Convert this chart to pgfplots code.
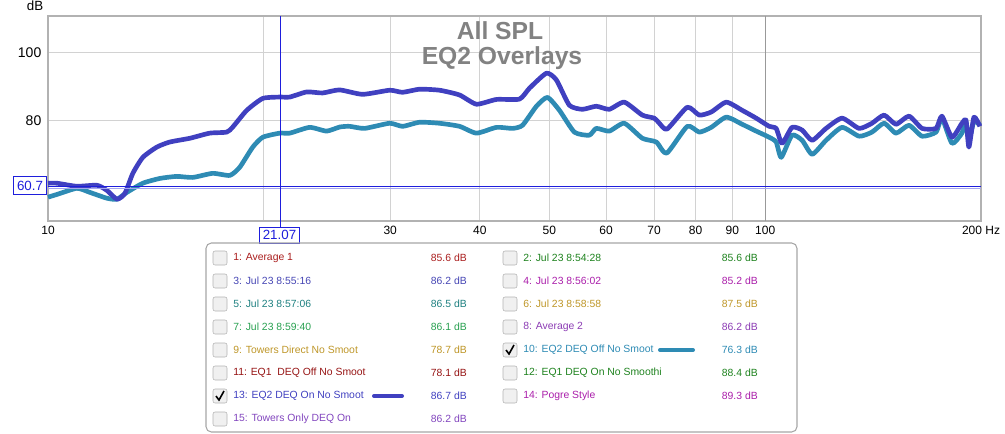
\documentclass[border=0pt]{standalone}
\usepackage{fontspec}
\setmainfont{Liberation Sans}
\usepackage{pgfplots}
\pgfplotsset{compat=1.18}
\definecolor{eqon}{RGB}{64,64,192}
\definecolor{eqoff}{RGB}{46,139,180}
\definecolor{cur}{RGB}{30,30,220}
\definecolor{ttl}{RGB}{130,130,130}
\definecolor{cA}{RGB}{170,30,30}
\definecolor{cB}{RGB}{70,70,180}
\definecolor{cC}{RGB}{30,128,128}
\definecolor{cD}{RGB}{40,160,80}
\definecolor{cE}{RGB}{190,150,40}
\definecolor{cF}{RGB}{150,20,20}
\definecolor{cG}{RGB}{130,70,190}
\definecolor{cH}{RGB}{30,130,30}
\definecolor{cI}{RGB}{170,30,170}
\definecolor{cJ}{RGB}{140,60,180}
\newcommand{\entry}[6]{%
  \draw[gray!60, fill=gray!12, rounded corners=1.5pt] (#1-7,#2-7) rectangle (#1+7,#2+7);
  \node[anchor=west, text=#6, inner sep=0pt] at (#1+13,#2) {#3};
  \node[anchor=east, text=#6, inner sep=0pt] at (#4,#2) {#5};
}
\newcommand{\chk}[2]{\draw[black, line width=1.2pt] (#1-4,#2) -- (#1-1,#2+4) -- (#1+4,#2-5);}
\begin{document}
\begin{tikzpicture}
\useasboundingbox (0,0) rectangle (753.75pt,-324.75pt);
\begin{axis}[
  at={(36pt,-12pt)}, anchor=north west,
  scale only axis, width=699.75pt, height=153.75pt,
  xmode=log, xmin=10, xmax=200, ymin=50.6, ymax=110.8,
  axis line style={draw=gray!60, line width=1pt},
  major tick length=0pt, minor tick length=0pt,
  xtick={10,20,30,40,50,60,70,80,90,200},
  xticklabels={10,,30,40,50,60,70,80,90,200 Hz},
  extra x ticks={100}, extra x tick labels={100},
  extra x tick style={grid style={gray!80, line width=0.75pt}},
  ytick={80,100},
  xmajorgrids, ymajorgrids,
  grid style={gray!35, line width=0.75pt},
  /pgf/number format/assume math mode=true,
  xticklabel style={font=\fontsize{9}{10}\selectfont, text=black},
  yticklabel style={font=\fontsize{10.5}{12}\selectfont, text=black, xshift=-1.5pt},
  log ticks with fixed point,
  clip=false,
]
\addplot[eqoff, line width=3.5pt, smooth, tension=0.35, line join=round] coordinates {
(10,57.6) (10.29,58.4) (10.97,60.2) (11.44,59.0) (12.08,57.3) (12.48,57.0) (12.88,59.0)
(13.56,61.7) (14.32,63.1) (15.12,63.7) (15.92,63.4) (16.97,64.6) (17.93,64.0) (18.51,66.4)
(19.30,72.3) (19.93,75.2) (21.04,76.4) (21.73,76.4) (23.17,78.1) (24.46,77.0) (25.51,78.2)
(26.34,78.4) (27.64,77.8) (29.95,79.3) (31.22,78.4) (32.97,79.6) (35.16,79.3) (37.49,78.4)
(39.58,76.4) (42.21,78.1) (44.43,77.8) (45.88,78.7) (47.98,84.3) (49.71,86.9) (51.66,83.1)
(54.20,76.7) (56.86,75.8) (58.15,77.8) (60.62,77.0) (63.62,79.3) (67.41,74.9) (70.51,73.8)
(72.9,70.5) (77.88,78.4) (80.93,76.7) (84.10,78.1) (88.26,81.1) (92.90,79.0) (97.16,77.0)
(101.3,75.2) (103.6,73.8) (105.3,69.3) (109.0,75.8) (112.6,74.3) (116.3,70.2) (121.6,74.3)
(128.0,78.1) (135.2,75.5) (140.9,76.7) (146.5,79.3) (152.2,76.4) (158.7,78.7) (165.5,75.5)
(173.1,76.7) (176.4,80.8) (182.2,73.4) (188.1,76.4) (190.6,79.6) (192.4,74.3) (195.5,79.9)
(199.3,78.7)
};
\addplot[eqon, line width=3.5pt, smooth, tension=0.35, line join=round] coordinates {
(10,61.7) (10.29,61.7) (10.97,60.8) (11.70,61.1) (12.08,59.6) (12.48,57.0) (12.80,58.7)
(13.13,64.6) (13.56,69.3) (14.18,72.3) (14.79,73.8) (15.77,74.9) (16.81,76.4) (17.75,76.7)
(18.10,78.2) (18.93,83.1) (19.93,86.6) (21.04,87.0) (21.73,87.0) (22.95,88.5) (24.15,88.2)
(25.5,89.1) (27.46,87.8) (29.95,89.0) (31.22,88.4) (32.97,89.3) (35.16,89.0) (37.49,87.6)
(39.58,84.9) (42.21,86.3) (45.44,86.4) (46.92,89.6) (49.55,94.0) (51.16,92.0) (53.33,84.6)
(55.61,83.4) (58.15,84.3) (60.62,83.4) (63.62,85.5) (67.41,81.7) (70.06,80.8) (71.2,79.3)
(73.0,77.6) (77.88,84.0) (80.93,81.7) (84.10,82.6) (88.26,85.5) (92.90,83.1) (97.16,80.8)
(101.3,78.4) (103.6,77.8) (105.6,73.4) (109.0,78.1) (112.6,77.3) (116.3,74.3) (121.6,77.8)
(128.0,80.8) (135.2,77.8) (140.9,79.3) (146.5,81.7) (152.2,79.0) (158.7,81.4) (165.5,77.8)
(173.1,77.8) (176.4,81.4) (182.2,75.2) (188.1,79.3) (190.6,80.2) (192.4,72.3) (195.5,81.1)
(199.3,78.4)
};
% cursors
\draw[cur, line width=0.8pt] (axis cs:10,60.7) -- (axis cs:200,60.7);
\draw[cur!40, line width=0.6pt] ([yshift=-1pt]axis cs:10,60.7) -- ([yshift=-1pt]axis cs:200,60.7);
\draw[cur, line width=0.8pt] (axis cs:21.07,110.8) -- ([yshift=-5pt]axis cs:21.07,50.6);
\end{axis}
\begin{scope}[x=0.75pt, y=-0.75pt]
\node[font=\fontsize{10}{12}\selectfont] at (35,6) {dB};
\node[font=\bfseries\fontsize{18.5}{20}\selectfont, text=ttl] at (500,31) {All SPL};
\node[font=\bfseries\fontsize{18.5}{20}\selectfont, text=ttl] at (502,58) {EQ2 Overlays};
\node[draw=cur, fill=white, text=cur, inner sep=1.5pt, line width=0.7pt, font=\fontsize{10}{12}\selectfont, minimum width=25pt, minimum height=13pt] at (30,185.5) {60.7};
\node[draw=cur, fill=white, text=cur, inner sep=1.5pt, line width=0.7pt, font=\fontsize{10}{12}\selectfont, minimum width=30pt, minimum height=12pt] at (279.5,235) {21.07};
\draw[gray!70, line width=0.8pt, rounded corners=4pt] (206,243) rectangle (797,432);
\begin{scope}[font=\fontsize{7.8}{9}\selectfont]
\entry{220}{258}{1: Average 1}{467}{85.6 dB}{cA}
\entry{220}{281}{3: Jul 23 8:55:16}{467}{86.2 dB}{cB}
\entry{220}{304}{5: Jul 23 8:57:06}{467}{86.5 dB}{cC}
\entry{220}{327}{7: Jul 23 8:59:40}{467}{86.1 dB}{cD}
\entry{220}{350}{9: Towers Direct No Smoot}{467}{78.7 dB}{cE}
\entry{220}{373}{11: EQ1\ \ DEQ Off No Smoot}{467}{78.1 dB}{cF}
\entry{220}{396}{13: EQ2 DEQ On No Smoot}{467}{86.7 dB}{eqon}
\entry{220}{419}{15: Towers Only DEQ On}{467}{86.2 dB}{cG}
\entry{510}{258}{2: Jul 23 8:54:28}{758}{85.6 dB}{cH}
\entry{510}{281}{4: Jul 23 8:56:02}{758}{85.2 dB}{cI}
\entry{510}{304}{6: Jul 23 8:58:58}{758}{87.5 dB}{cE}
\entry{510}{327}{8: Average 2}{758}{86.2 dB}{cJ}
\entry{510}{350}{10: EQ2 DEQ Off No Smoot}{758}{76.3 dB}{eqoff}
\entry{510}{373}{12: EQ1 DEQ On No Smoothi}{758}{88.4 dB}{cH}
\entry{510}{396}{14: Pogre Style}{758}{89.3 dB}{cI}
\end{scope}
\chk{220}{396}
\chk{510}{350}
\draw[eqon, line width=3pt, line cap=round] (374,396) -- (402,396);
\draw[eqoff, line width=3pt, line cap=round] (660,350) -- (693,350);
\end{scope}
\end{tikzpicture}
\end{document}
